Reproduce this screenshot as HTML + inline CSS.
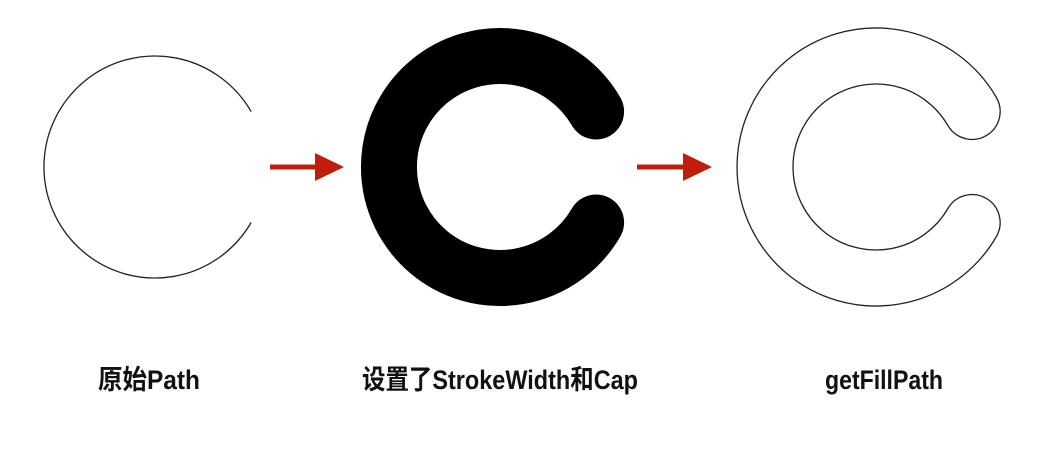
<!DOCTYPE html>
<html><head><meta charset="utf-8">
<style>
html,body{margin:0;padding:0;background:#fff;}
svg{display:block;}
text{font-family:"Liberation Sans","Noto Sans CJK SC",sans-serif;font-weight:bold;font-size:27px;fill:#111;}
</style></head>
<body>
<svg width="1049" height="457" viewBox="0 0 1049 457">
  <!-- original path: arc r=111, gap 30deg each side -->
  <path d="M251.1 111.5 A111 111 0 1 0 251.1 222.5" fill="none" stroke="#222" stroke-width="1.3"/>
  <!-- arrow 1 -->
  <g fill="#BE1E0A">
    <rect x="270" y="164.5" width="47" height="5"/>
    <polygon points="315,153 344,167 315,181"/>
  </g>
  <!-- stroked path -->
  <path d="M596.1 111.5 A111 111 0 1 0 596.1 222.5" fill="none" stroke="#000" stroke-width="56" stroke-linecap="round"/>
  <!-- arrow 2 -->
  <g fill="#BE1E0A">
    <rect x="637" y="164.5" width="48" height="5"/>
    <polygon points="683,153 712,167 683,181"/>
  </g>
  <!-- fill path outline: outer r=139, inner r=83, caps r=28 -->
  <path
    d="M996.4 97.5 A139 139 0 1 0 996.4 236.5 A28 28 0 0 0 947.9 208.5 A83 83 0 1 1 947.9 125.5 A28 28 0 0 0 996.4 97.5 Z"
    fill="none" stroke="#222" stroke-width="1.3"/>
  <text x="98" y="389" textLength="102" lengthAdjust="spacingAndGlyphs">原始Path</text>
  <text x="362" y="389" textLength="276" lengthAdjust="spacingAndGlyphs">设置了StrokeWidth和Cap</text>
  <text x="825" y="389" textLength="118" lengthAdjust="spacingAndGlyphs">getFillPath</text>
</svg>
</body></html>
